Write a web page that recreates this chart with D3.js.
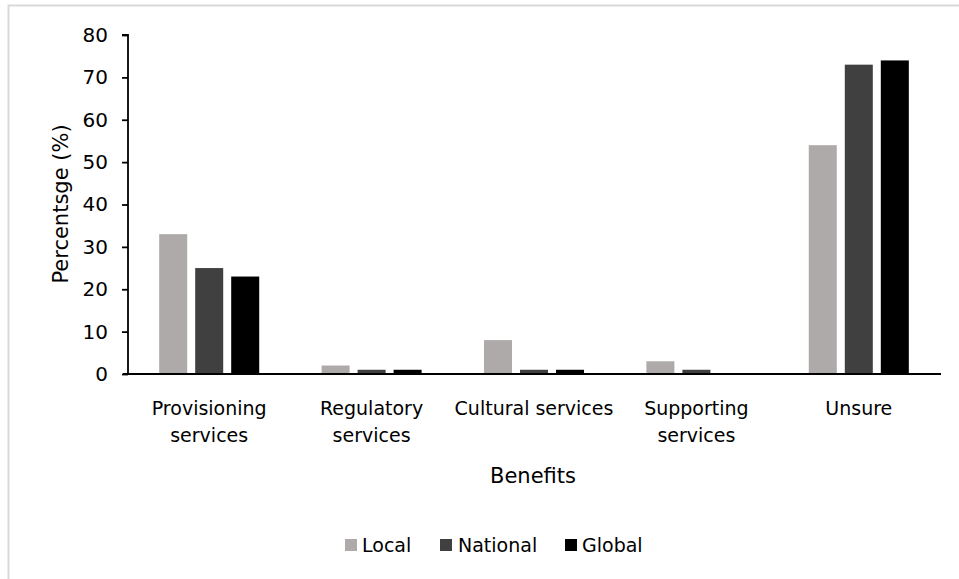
<!DOCTYPE html>
<html>
<head>
<meta charset="utf-8">
<script src="https://cdn.jsdelivr.net/npm/d3@7"></script>
<style>
  html, body { margin: 0; padding: 0; background: #fff; }
  svg { display: block; }
  text { font-family: "DejaVu Sans", sans-serif; fill: #000; }
</style>
</head>
<body>
<svg id="chart" width="959" height="579"></svg>
<script>
const categories = [["Provisioning", "services"], ["Regulatory", "services"], ["Cultural services"], ["Supporting", "services"], ["Unsure"]];
const seriesNames = ["Local", "National", "Global"];
const localValues = [33, 2, 8, 3, 54];
const nationalValues = [25, 1, 1, 1, 73];
const globalValues = [23, 1, 1, 0, 74];
const seriesColors = ["#AEAAAA", "#404040", "#000000"];
const yTicks = [0, 10, 20, 30, 40, 50, 60, 70, 80];

const seriesValues = [localValues, nationalValues, globalValues];
const catKeys = categories.map(c => c.join(" "));
const FONT = "'DejaVu Sans', sans-serif";

const svg = d3.select("#chart");

// outer frame
svg.append("rect").attr("x", 8.5).attr("y", 5.5).attr("width", 1000).attr("height", 1000)
  .attr("fill", "none").attr("stroke", "#d9d9d9").attr("stroke-width", 2);

const plotLeft = 128, plotRight = 940, plotTop = 35, plotBottom = 374;

const x0 = d3.scaleBand().domain(catKeys).range([plotLeft, plotRight])
  .paddingInner(0.384).paddingOuter(0.192);
const x1 = d3.scaleBand().domain(seriesNames).range([0, x0.bandwidth()]).paddingInner(0.222);
const y = d3.scaleLinear().domain([0, 80]).range([plotBottom, plotTop]);

// bars
seriesNames.forEach((s, si) => {
  svg.append("g").selectAll("rect").data(catKeys).join("rect")
    .attr("x", d => x0(d) + x1(s))
    .attr("width", x1.bandwidth())
    .attr("y", (d, i) => y(seriesValues[si][i]))
    .attr("height", (d, i) => y(0) - y(seriesValues[si][i]))
    .attr("fill", seriesColors[si]);
});

// y axis
const yAxis = d3.axisLeft(y).tickValues(yTicks).tickSize(6).tickPadding(14);
const gy = svg.append("g").attr("transform", `translate(${plotLeft},0)`).call(yAxis);
gy.select(".domain").attr("stroke", "#000").attr("stroke-width", 1.8).attr("d", `M-6,${plotTop}H0V${plotBottom}`);
gy.selectAll(".tick line").attr("stroke", "#000").attr("stroke-width", 1.8);
gy.selectAll(".tick text").style("font-family", FONT).style("font-size", "20px").attr("fill", "#000");

// x axis
const xAxis = d3.axisBottom(x0).tickSize(0).tickFormat("");
const gx = svg.append("g").attr("transform", `translate(0,${plotBottom})`).call(xAxis);
gx.select(".domain").attr("stroke", "#000").attr("stroke-width", 1.8).attr("d", `M${plotLeft - 5},0H${plotRight + 1}`);

// category labels
categories.forEach((lines, i) => {
  const cx = x0(catKeys[i]) + x0.bandwidth() / 2;
  const t = svg.append("text").attr("text-anchor", "middle").style("font-size", "19px");
  lines.forEach((ln, j) => {
    t.append("tspan").attr("x", cx).attr("y", 415 + j * 27).text(ln);
  });
});

// axis titles
svg.append("text").attr("text-anchor", "middle").style("font-size", "21px")
  .attr("x", (plotLeft + plotRight) / 2 - 1).attr("y", 483).text("Benefits");
svg.append("text").attr("text-anchor", "middle").style("font-size", "21px")
  .attr("transform", `translate(68,204) rotate(-90)`).text("Percentsge (%)");

// legend
const legendItems = [{x: 345, tx: 362}, {x: 440, tx: 458}, {x: 565, tx: 582}];
seriesNames.forEach((s, i) => {
  svg.append("rect").attr("x", legendItems[i].x).attr("y", 539).attr("width", 12).attr("height", 12)
    .attr("fill", seriesColors[i]);
  svg.append("text").attr("x", legendItems[i].tx).attr("y", 552).style("font-size", "19px").text(s);
});
</script>
</body>
</html>
